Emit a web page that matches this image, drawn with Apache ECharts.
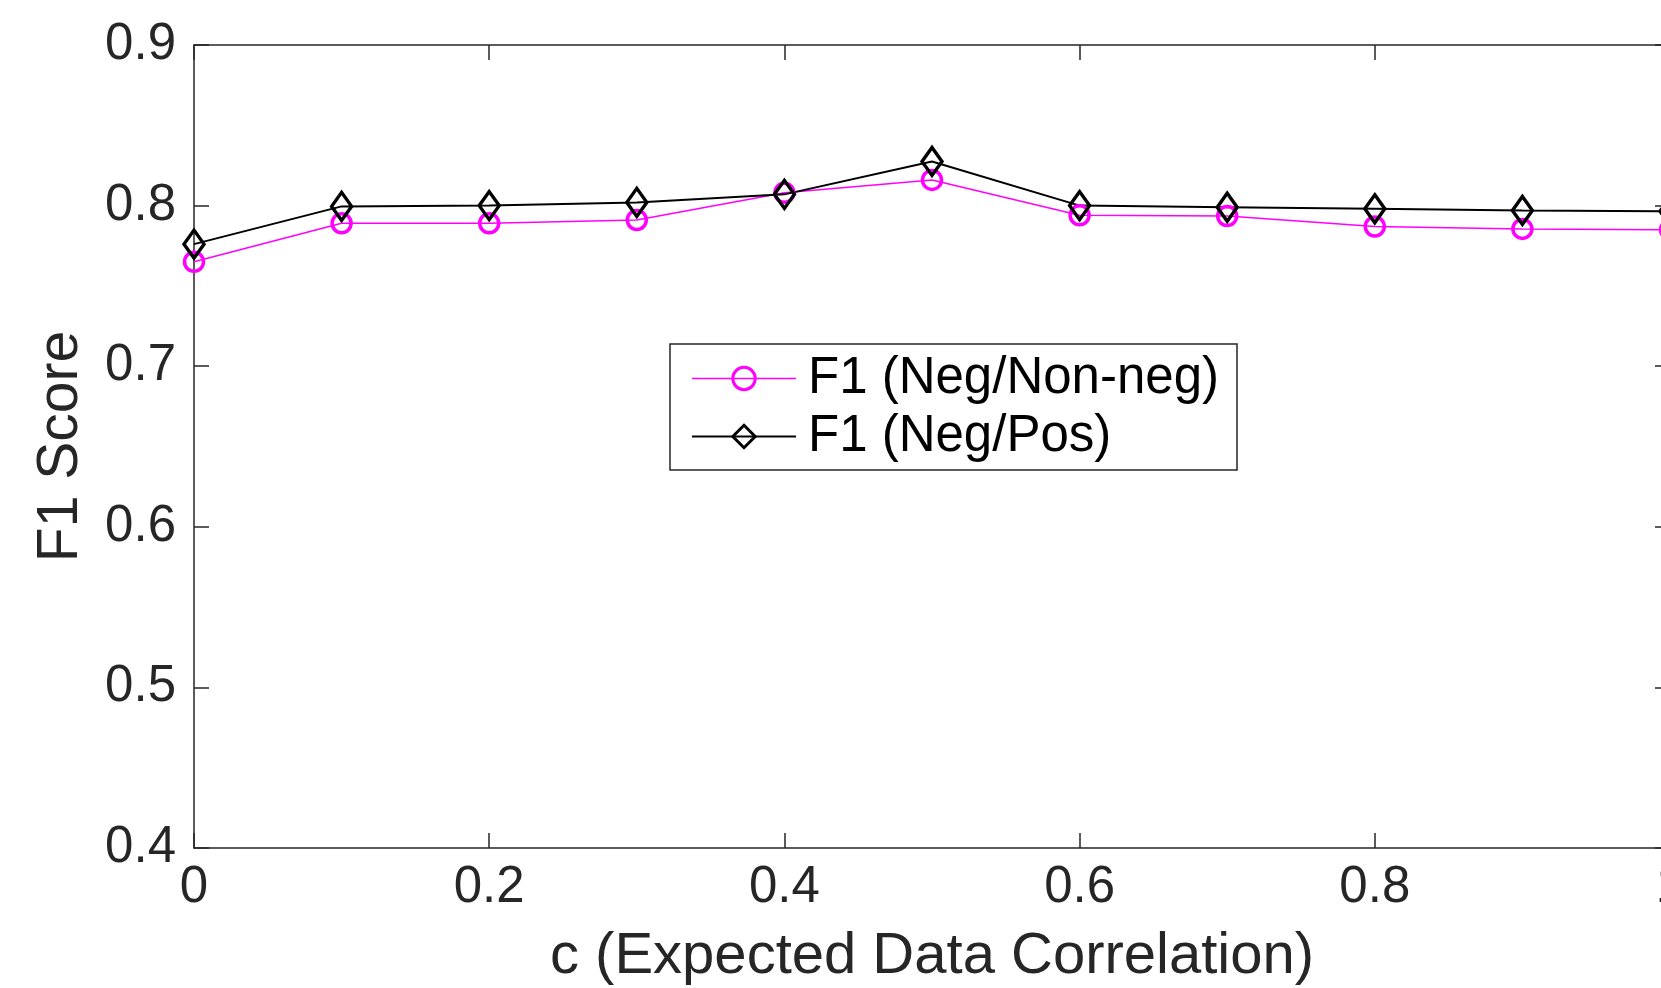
<!DOCTYPE html>
<html>
<head>
<meta charset="utf-8">
<title>F1 Score vs c</title>
<script src="https://cdn.jsdelivr.net/npm/echarts@6/dist/echarts.min.js"></script>
<style>
    html, body { margin: 0; padding: 0; background: #ffffff; }
    #chart { width: 1661px; height: 988px; }
</style>
</head>
<body>
<div id="chart"></div>
<script>
// ============================================
// 数据
// ============================================
const cValues = [0, 0.1, 0.2, 0.3, 0.4, 0.5, 0.6, 0.7, 0.8, 0.9, 1.0];
const f1NegNonNeg = [0.765, 0.789, 0.789, 0.791, 0.808, 0.816, 0.794, 0.7935, 0.787, 0.7855, 0.785];
const f1NegPos = [0.776, 0.7995, 0.800, 0.802, 0.807, 0.8275, 0.800, 0.799, 0.798, 0.797, 0.7965];
const seriesNames = ['F1 (Neg/Non-neg)', 'F1 (Neg/Pos)'];
const xTicks = { min: 0, max: 1, step: 0.2 };
const yTicks = { min: 0.4, max: 0.9, step: 0.1 };

const FONT = '"Liberation Sans", Arial, Helvetica, sans-serif';
const AXIS_COLOR = '#262626';
const MAGENTA = '#ff00ff';

function pairs(xs, ys) {
    return xs.map((x, i) => [x, ys[i]]);
}

// 坐标轴公共样式 (MATLAB 风格: 刻度朝内, 四边框)
function axisBase(extra) {
    return Object.assign({
        type: 'value',
        axisLine: { show: true, onZero: false, lineStyle: { color: AXIS_COLOR, width: 1.5 } },
        axisTick: { show: true, inside: true, length: 15, lineStyle: { color: AXIS_COLOR, width: 1.5 } },
        splitLine: { show: false }
    }, extra);
}

function init() {
    const chart = echarts.init(document.getElementById('chart'), null, { renderer: 'canvas' });

    const option = {
        animation: false,
        backgroundColor: '#ffffff',
        // 右边框在画布之外 (原图被裁切), 不让 ECharts 自动收缩
        grid: {
            left: 194, top: 45, width: 1476, height: 803,
            containLabel: false, outerBoundsMode: 'none'
        },
        xAxis: [
            axisBase({
                min: xTicks.min, max: xTicks.max, interval: xTicks.step,
                position: 'bottom',
                name: 'c (Expected Data Correlation)',
                nameLocation: 'middle',
                nameGap: 80,
                nameTextStyle: { fontFamily: FONT, fontSize: 58, color: AXIS_COLOR },
                axisLabel: {
                    margin: 14, fontFamily: FONT, fontSize: 51, color: AXIS_COLOR,
                    formatter: v => String(Math.round(v * 10) / 10)
                }
            }),
            axisBase({
                min: xTicks.min, max: xTicks.max, interval: xTicks.step,
                position: 'top',
                axisLabel: { show: false }
            })
        ],
        yAxis: [
            axisBase({
                min: yTicks.min, max: yTicks.max, interval: yTicks.step,
                position: 'left',
                name: 'F1 Score',
                nameLocation: 'middle',
                nameGap: 104,
                nameTextStyle: { fontFamily: FONT, fontSize: 57, color: AXIS_COLOR },
                axisLabel: {
                    margin: 18, fontFamily: FONT, fontSize: 51, color: AXIS_COLOR,
                    formatter: v => v.toFixed(1)
                }
            }),
            axisBase({
                min: yTicks.min, max: yTicks.max, interval: yTicks.step,
                position: 'right',
                axisLabel: { show: false }
            })
        ],
        legend: {
            orient: 'vertical',
            left: 670,
            top: 344,
            padding: [9, 18, 8, 21],
            itemWidth: 104,
            itemHeight: 28,
            itemGap: 7,
            backgroundColor: '#ffffff',
            borderColor: AXIS_COLOR,
            borderWidth: 1.5,
            borderRadius: 0,
            textStyle: {
                fontFamily: FONT, fontSize: 51, color: '#000000',
                lineHeight: 50, padding: [0, 0, 0, 7]
            },
            data: [
                {
                    name: seriesNames[0],
                    itemStyle: { color: 'transparent', borderColor: MAGENTA, borderWidth: 3 },
                    lineStyle: { color: MAGENTA, width: 1.5 }
                },
                {
                    name: seriesNames[1],
                    itemStyle: { color: 'transparent', borderColor: '#000000', borderWidth: 3 },
                    lineStyle: { color: '#000000', width: 2 }
                }
            ]
        },
        series: [
            {
                name: seriesNames[0],
                type: 'line',
                data: pairs(cValues, f1NegNonNeg),
                symbol: 'circle',
                symbolSize: 19,
                lineStyle: { color: MAGENTA, width: 1.5 },
                itemStyle: { color: 'transparent', borderColor: MAGENTA, borderWidth: 3.5 },
                clip: false
            },
            {
                name: seriesNames[1],
                type: 'line',
                data: pairs(cValues, f1NegPos),
                symbol: 'diamond',
                symbolSize: [20, 28],
                lineStyle: { color: '#000000', width: 2 },
                itemStyle: { color: 'transparent', borderColor: '#000000', borderWidth: 3.5 },
                clip: false
            }
        ]
    };

    chart.setOption(option);
}

document.addEventListener('DOMContentLoaded', init);
</script>
</body>
</html>
